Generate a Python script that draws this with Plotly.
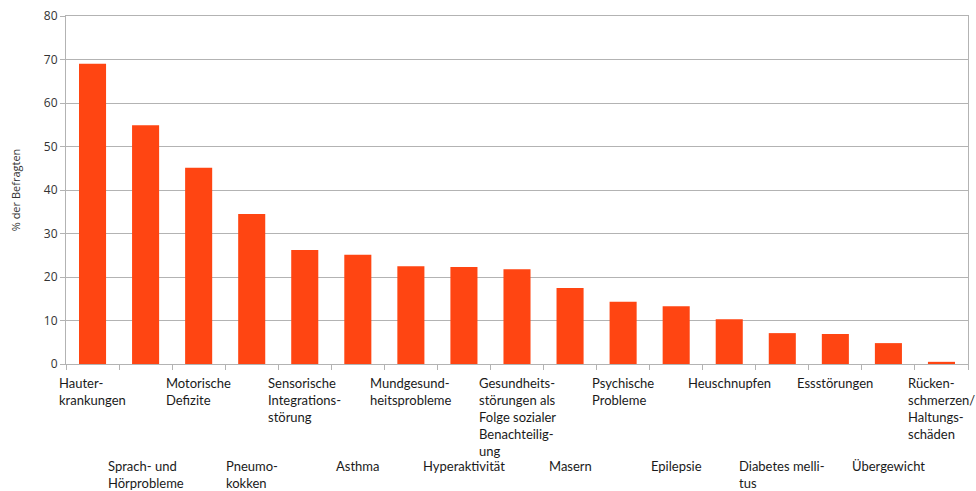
import plotly.graph_objects as go

categories = [
    "Hauter-<br>krankungen",
    "Sprach- und<br>Hörprobleme",
    "Motorische<br>Defizite",
    "Pneumo-<br>kokken",
    "Sensorische<br>Integrations-<br>störung",
    "Asthma",
    "Mundgesund-<br>heitsprobleme",
    "Hyperaktivität",
    "Gesundheits-<br>störungen als<br>Folge sozialer<br>Benachteilig-<br>ung",
    "Masern",
    "Psychische<br>Probleme",
    "Epilepsie",
    "Heuschnupfen",
    "Diabetes melli-<br>tus",
    "Essstörungen",
    "Übergewicht",
    "Rücken-<br>schmerzen/<br>Haltungs-<br>schäden",
]
values = [69.0, 54.9, 45.1, 34.5, 26.2, 25.1, 22.5, 22.3, 21.8, 17.5, 14.3, 13.3, 10.3, 7.1, 6.9, 4.8, 0.5]
y_ticks = [0, 10, 20, 30, 40, 50, 60, 70, 80]

ids = list(range(len(categories)))

fig = go.Figure(go.Bar(x=ids, y=values, marker=dict(color="#FF4512", line=dict(width=0)),
                       hoverinfo="skip"))

label_font = dict(family="Lato, Open Sans, sans-serif", size=13, color="#1a1a1a")
for i, lab in enumerate(categories):
    fig.add_annotation(x=i, y=0, xref="x", yref="paper", text=lab, showarrow=False,
                       xanchor="center", yanchor="top", align="left",
                       yshift=-9 if i % 2 == 0 else -92, font=label_font)

fig.update_layout(
    width=976, height=491,
    margin=dict(l=66, r=8, t=16, b=127),
    paper_bgcolor="white", plot_bgcolor="white",
    bargap=0.49, showlegend=False,
    font=dict(family="Open Sans, sans-serif", color="#333333"),
)
fig.update_xaxes(type="linear", range=[-0.5, len(categories) - 0.5],
                 tickvals=[i - 0.5 for i in range(len(categories) + 1)],
                 showticklabels=False, ticks="outside", ticklen=5, tickcolor="#b3b3b3",
                 showgrid=False, zeroline=False, showline=True, linecolor="#b3b3b3",
                 mirror=True)
fig.update_yaxes(range=[0, 80], tickvals=y_ticks, ticks="outside", ticklen=5,
                 tickcolor="#b3b3b3", showgrid=True, gridcolor="#b3b3b3", gridwidth=1,
                 zeroline=False, showline=True, linecolor="#b3b3b3", mirror=True,
                 ticklabeloverflow="allow",
                 tickfont=dict(size=12, color="#333333"),
                 title=dict(text="% der Befragten", font=dict(size=11, color="#333333"),
                            standoff=21))

fig.write_html("out.html", config={"displayModeBar": False},
               post_script="document.body.style.margin='0';")
